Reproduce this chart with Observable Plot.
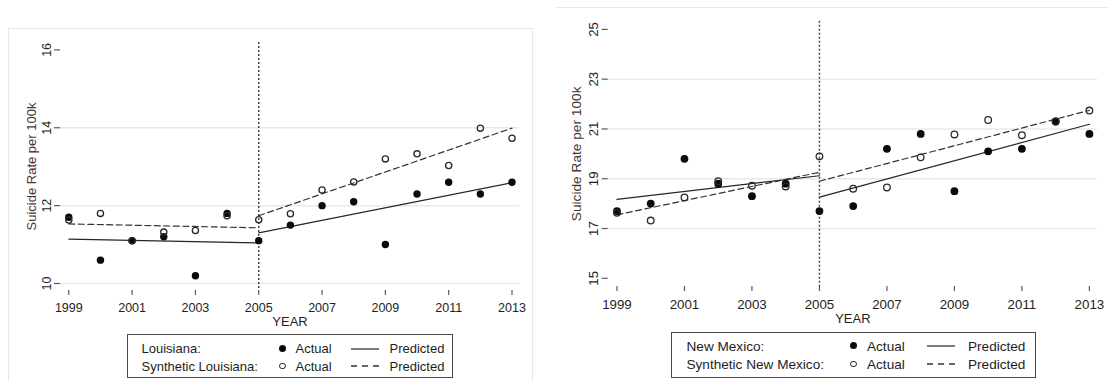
<!DOCTYPE html>
<html>
<head>
<meta charset="utf-8">
<script src="https://cdn.jsdelivr.net/npm/d3@7"></script>
<script src="https://cdn.jsdelivr.net/npm/@observablehq/plot@0.6"></script>
<style>
  body { margin: 0; background: #fff; font-family: "Liberation Sans", Arial, sans-serif; }
  #wrap { position: relative; width: 1108px; height: 381px; overflow: hidden; background: #fff; }
  .frameL { position: absolute; left: 8px; top: 28px; width: 525px; height: 420px; box-sizing: border-box; border: 1px solid #e3ebee; }
  .frameR { position: absolute; left: 555px; top: 7px; width: 560px; height: 1px; border-top: 1px solid #e3ebee; }
  .panel { position: absolute; top: 0; }
  .legend { position: absolute; box-sizing: border-box; border: 1px solid #4a4a4a; background: #fff; color: #1e1e1e; }
  .legend .t { position: absolute; white-space: nowrap; line-height: 15px; }
  .legend .dot { position: absolute; box-sizing: border-box; border-radius: 50%; }
  .legend svg { position: absolute; overflow: visible; }
</style>
</head>
<body>
<div id="wrap">
  <div class="frameL"></div>
  <div class="frameR"></div>
</div>
<script>
// ---------- data ----------
const years = [1999, 2000, 2001, 2002, 2003, 2004, 2005, 2006, 2007, 2008, 2009, 2010, 2011, 2012, 2013];
const xTicks = [1999, 2001, 2003, 2005, 2007, 2009, 2011, 2013];
const breakYear = [2005];
const predYearsPre = [1999, 2005];
const predYearsPost = [2005, 2013];

// Louisiana
const laActual    = [11.7, 10.6, 11.1, 11.2, 10.2, 11.8, 11.1, 11.5, 12.0, 12.1, 11.0, 12.3, 12.6, 12.3, 12.6];
const laSynthetic = [11.63, 11.8, 11.1, 11.32, 11.36, 11.74, 11.64, 11.79, 12.4, 12.61, 13.2, 13.33, 13.03, 13.99, 13.73];
const laPredActualPre  = [11.14, 11.04];
const laPredActualPost = [11.3, 12.59];
const laPredSynthPre   = [11.53, 11.43];
const laPredSynthPost  = [11.74, 13.99];
const laYTicks = [10, 12, 14, 16];
const laGrid   = [10, 12, 14];

// New Mexico
const nmActual    = [17.7, 18.0, 19.8, 18.8, 18.3, 18.8, 17.7, 17.9, 20.2, 20.8, 18.5, 20.1, 20.2, 21.3, 20.8];
const nmSynthetic = [17.63, 17.32, 18.25, 18.9, 18.72, 18.69, 19.9, 18.6, 18.65, 19.86, 20.78, 21.36, 20.75, 21.3, 21.74];
const nmPredActualPre  = [18.17, 19.12];
const nmPredActualPost = [18.26, 21.19];
const nmPredSynthPre   = [17.55, 19.26];
const nmPredSynthPost  = [18.9, 21.75];
const nmYTicks = [15, 17, 19, 21, 23, 25];
const nmGrid   = [17, 19, 21, 23];

const yLabel = "Suicide Rate per 100k";
const xLabel = "YEAR";
const legendLeft  = ["Louisiana:", "Synthetic Louisiana:"];
const legendRight = ["New Mexico:", "Synthetic New Mexico:"];
const legendKeys  = ["Actual", "Predicted"];

// ---------- helpers ----------
const pts = vals => years.map((year, i) => ({year, value: vals[i]}));
const segs = (pre, post) => [
  ...predYearsPre.map((year, i) => ({year, value: pre[i], seg: "pre"})),
  ...predYearsPost.map((year, i) => ({year, value: post[i], seg: "post"}))
];

function panel(o) {
  return Plot.plot({
    width: o.width, height: o.height,
    marginLeft: o.ml, marginRight: o.mr, marginTop: o.mt, marginBottom: o.mb,
    style: {fontFamily: '"Liberation Sans", Arial, sans-serif', fontSize: o.fs + "px", background: "transparent", color: "#1e1e1e", overflow: "visible"},
    x: {domain: o.xDomain},
    y: {domain: o.yDomain},
    marks: [
      Plot.ruleY(o.grid, {stroke: "#e2ecee", strokeWidth: 1.5}),
      Plot.axisX({ticks: xTicks, tickFormat: d => String(d), tickSize: 5, tickPadding: 8, line: true, label: null, stroke: "#5a5a5a", fill: "#1e1e1e", strokeWidth: 1.2}),
      Plot.axisY({ticks: o.yTicks, tickFormat: d => String(d), tickSize: 6, tickPadding: o.ytp, tickRotate: -90, line: true, label: null, stroke: "#5a5a5a", fill: "#1e1e1e", strokeWidth: 1.2}),
      Plot.ruleX(breakYear, {stroke: "#4a4a4a", strokeWidth: 1.5, strokeDasharray: "2,2"}),
      Plot.line(segs(o.pAPre, o.pAPost), {x: "year", y: "value", z: "seg", stroke: "#262626", strokeWidth: 1.2}),
      Plot.line(segs(o.pSPre, o.pSPost), {x: "year", y: "value", z: "seg", stroke: "#333", strokeWidth: 1.2, strokeDasharray: "6,3.5"}),
      Plot.dot(pts(o.actual), {x: "year", y: "value", r: o.r, fill: "#0a0a0a", stroke: "none"}),
      Plot.dot(pts(o.synth), {x: "year", y: "value", r: o.r - 0.6, fill: "none", stroke: "#2a2a2a", strokeWidth: 1.3}),
      Plot.text([yLabel], {text: d => d, frameAnchor: "left", textAnchor: "middle", rotate: -90, dx: o.ldx, lineAnchor: "middle", fontSize: o.lfs, fill: "#4a3434"}),
      Plot.text([xLabel], {text: d => d, frameAnchor: "bottom", textAnchor: "middle", dy: o.ydy, lineAnchor: "middle", fontSize: 13, fill: "#1e1e1e"})
    ]
  });
}

function legend(o) {
  const box = document.createElement("div");
  box.className = "legend";
  Object.assign(box.style, {left: o.left + "px", top: o.top + "px", width: o.w + "px", height: o.h + "px", fontSize: o.fs + "px"});
  const rows = [o.labels[0], o.labels[1]];
  rows.forEach((lab, i) => {
    const base = o.base[i];
    const top = base - o.bo - 1;
    const mid = base - 0.36 * o.fs - 1;
    const add = (txt, x) => {
      const s = document.createElement("span");
      s.className = "t"; s.textContent = txt;
      s.style.left = x + "px"; s.style.top = top + "px";
      box.appendChild(s);
    };
    add(lab, o.xName);
    const d = document.createElement("span");
    d.className = "dot";
    const dd = i === 0 ? 7 : 6.4;
    Object.assign(d.style, {width: dd + "px", height: dd + "px", left: (o.xDot - dd / 2) + "px", top: (mid - dd / 2) + "px",
      background: i === 0 ? "#0a0a0a" : "transparent", border: i === 0 ? "none" : "1.2px solid #2a2a2a"});
    box.appendChild(d);
    add(legendKeys[0], o.xAct);
    const svg = document.createElementNS("http://www.w3.org/2000/svg", "svg");
    svg.setAttribute("width", o.lineW); svg.setAttribute("height", 4);
    svg.style.left = o.xLine + "px"; svg.style.top = (mid - 2) + "px";
    const ln = document.createElementNS("http://www.w3.org/2000/svg", "line");
    ln.setAttribute("x1", 0); ln.setAttribute("x2", o.lineW); ln.setAttribute("y1", 2); ln.setAttribute("y2", 2);
    ln.setAttribute("stroke", "#333"); ln.setAttribute("stroke-width", 1.3);
    if (i === 1) ln.setAttribute("stroke-dasharray", "6,5");
    svg.appendChild(ln);
    box.appendChild(svg);
    add(legendKeys[1], o.xPred);
  });
  return box;
}

const wrap = document.getElementById("wrap");

const left = panel({
  width: 540, height: 330, ml: 60, mr: 21, mt: 42, mb: 40,
  xDomain: [1998.738, 2013.237], yDomain: [9.82, 16.19],
  yTicks: laYTicks, grid: laGrid, fs: 12.5, ytp: 4, r: 3.7, ldx: -28.5, lfs: 13, ydy: 31,
  actual: laActual, synth: laSynthetic,
  pAPre: laPredActualPre, pAPost: laPredActualPost, pSPre: laPredSynthPre, pSPost: laPredSynthPost
});
left.classList.add("panel");
left.style.left = "0px";
wrap.appendChild(left);

const right = panel({
  width: 554, height: 330, ml: 53.7, mr: 11, mt: 20.7, mb: 44,
  xDomain: [1998.74, 2013.24], yDomain: [14.67, 25.33],
  yTicks: nmYTicks, grid: nmGrid, fs: 13.3, ytp: 4.7, r: 3.9, ldx: -31.2, lfs: 13.7, ydy: 32,
  actual: nmActual, synth: nmSynthetic,
  pAPre: nmPredActualPre, pAPost: nmPredActualPost, pSPre: nmPredSynthPre, pSPost: nmPredSynthPost
});
right.classList.add("panel");
right.style.left = "554px";
wrap.appendChild(right);

wrap.appendChild(legend({left: 127, top: 334, w: 326, h: 44, fs: 13, labels: legendLeft,
  base: [19.3, 36.7], bo: 12.0, xName: 13.5, xDot: 154.5, xAct: 167.5, xLine: 223, lineW: 28, xPred: 261.5}));
wrap.appendChild(legend({left: 671, top: 332, w: 365, h: 46, fs: 13.6, labels: legendRight,
  base: [18.7, 36.7], bo: 12.2, xName: 14.5, xDot: 181.5, xAct: 195, xLine: 255, lineW: 28, xPred: 296}));
</script>
</body>
</html>
